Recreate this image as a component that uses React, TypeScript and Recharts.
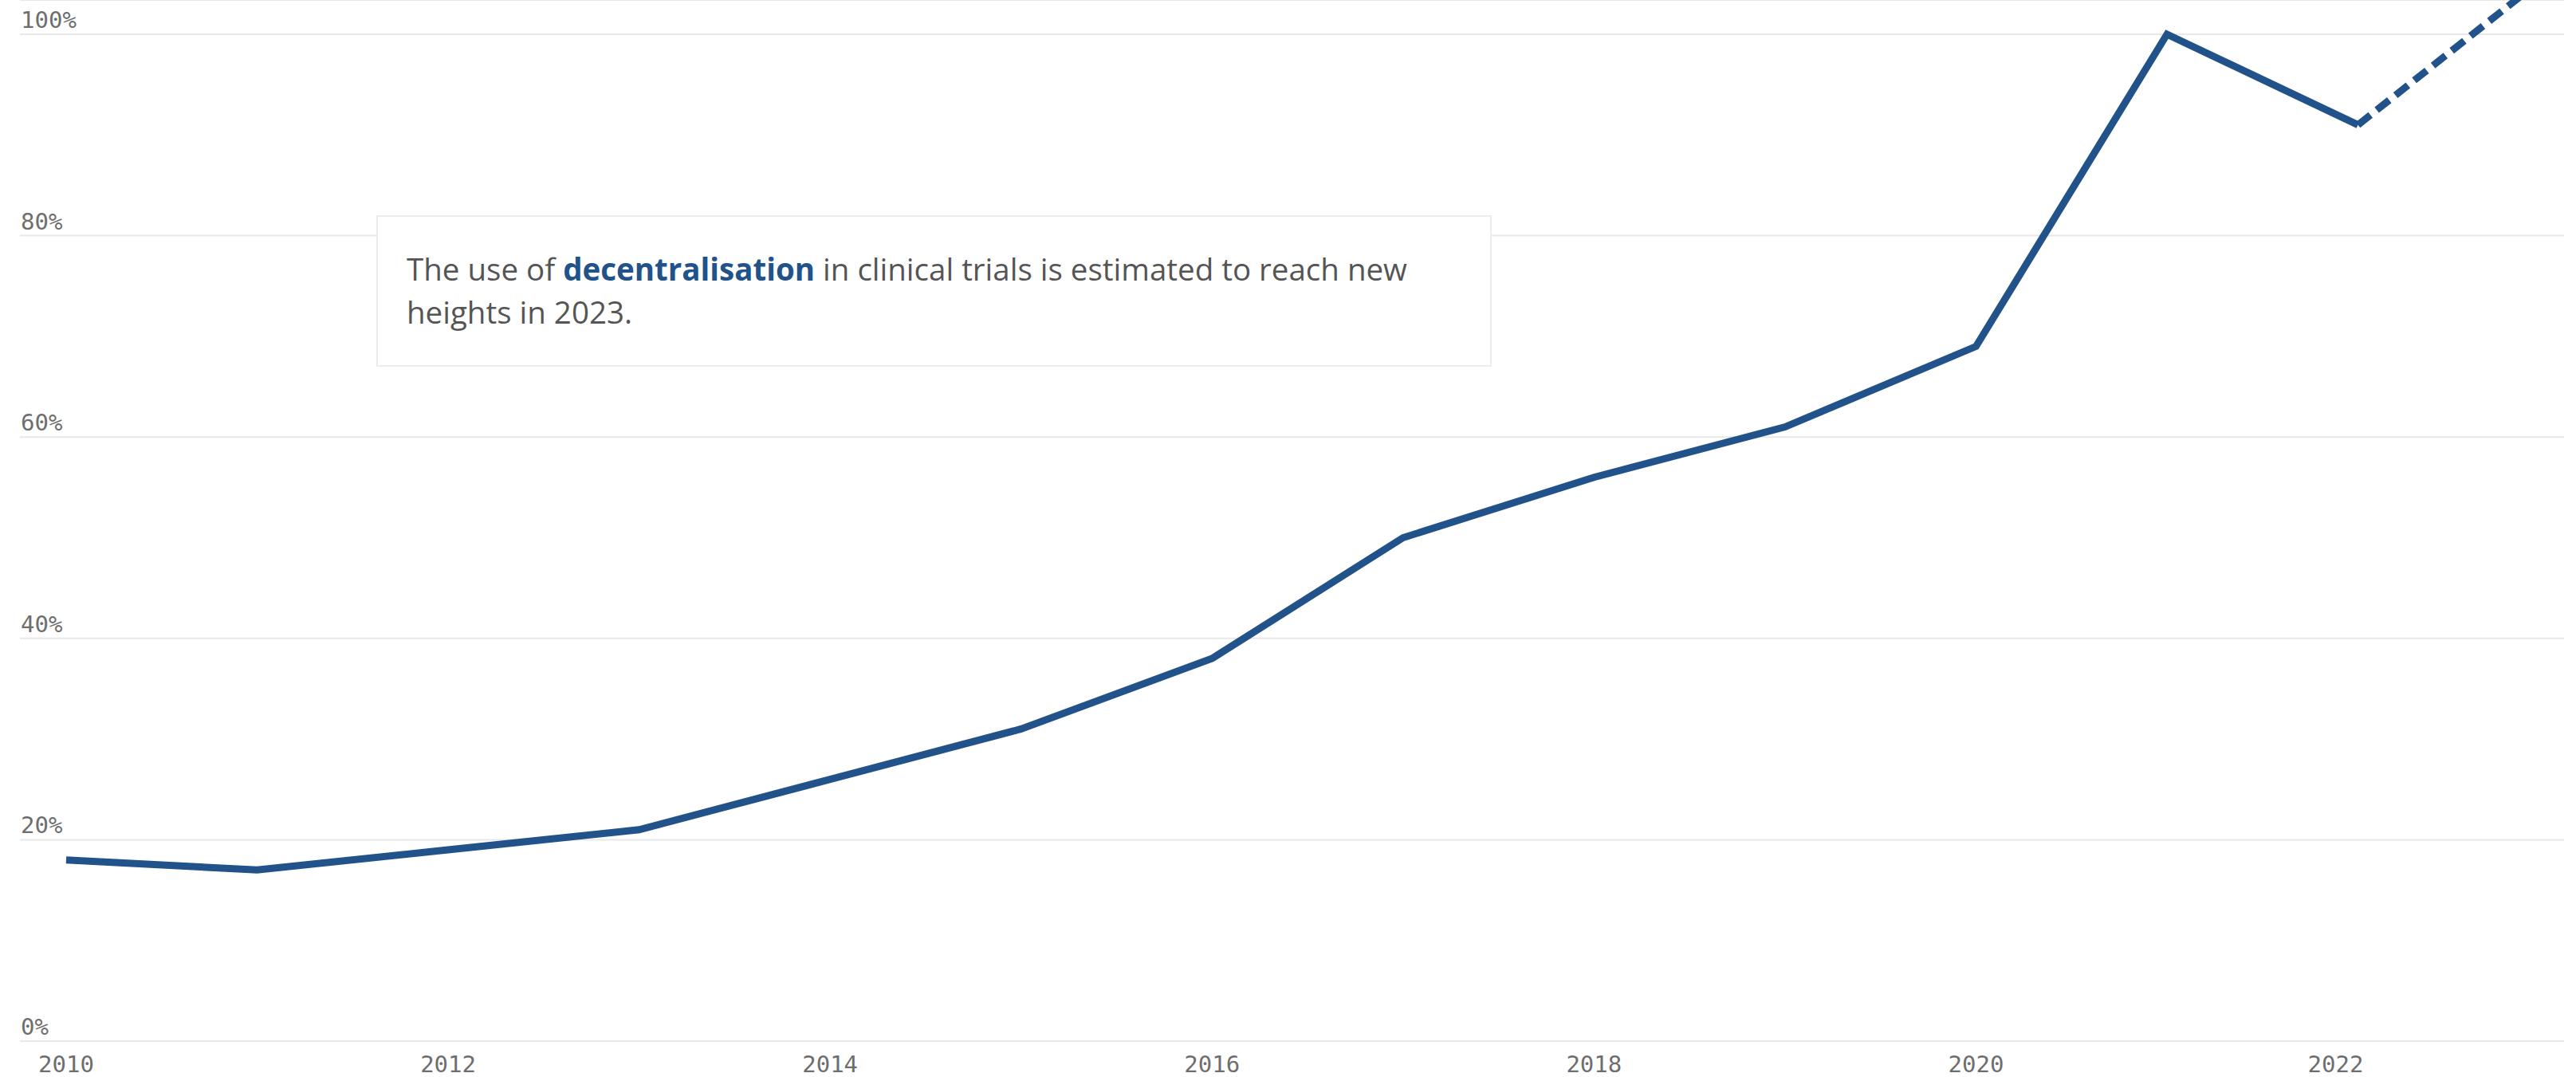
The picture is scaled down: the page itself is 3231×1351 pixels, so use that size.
import { LineChart, Line, XAxis, YAxis, CartesianGrid } from 'recharts';

// Share of clinical trials using decentralised elements, by year (%)
const years = [2010, 2011, 2012, 2013, 2014, 2015, 2016, 2017, 2018, 2019, 2020, 2021, 2022, 2023];
const actualShare = [18, 17, 19, 21, 26, 31, 38, 50, 56, 61, 69, 100, 91, null];
const estimatedShare = [null, null, null, null, null, null, null, null, null, null, null, null, 91, 106];

const yearTicks = [2010, 2012, 2014, 2016, 2018, 2020, 2022];
const percentTicks = [0, 20, 40, 60, 80, 100];

const data = years.map((year, i) => ({
  year,
  actual: actualShare[i],
  estimate: estimatedShare[i],
}));

const WIDTH = 3231;
const HEIGHT = 1351;
const PLOT_LEFT = 25;
const LINE_COLOR = '#21528a';
const TICK_COLOR = '#6e6e6e';
const MONO = '"DejaVu Sans Mono", "Liberation Mono", monospace';

// top of the plot sits above the 100% line so the 2023 estimate runs off the top
const Y_MAX = (100 * 1306) / 1263;

const XTick = ({ x, y, payload }: any) => (
  <text
    x={x + (payload.value === 2022 ? -28 : 0)}
    y={y + 37}
    textAnchor="middle"
    fontFamily={MONO}
    fontSize={29}
    fill={TICK_COLOR}
  >
    {payload.value}
  </text>
);

const YTick = ({ y, payload }: any) => (
  <text x={PLOT_LEFT + 1} y={y - 8} textAnchor="start" fontFamily={MONO} fontSize={29} fill={TICK_COLOR}>
    {`${payload.value}%`}
  </text>
);

export default function App() {
  return (
    <div
      style={{
        position: 'absolute',
        left: 0,
        top: 0,
        width: WIDTH,
        height: HEIGHT,
        background: '#ffffff',
        overflow: 'hidden',
      }}
    >
      <LineChart
        width={WIDTH}
        height={HEIGHT}
        data={data}
        margin={{ top: 0, right: 15, bottom: 0, left: PLOT_LEFT - 1 }}
      >
        <CartesianGrid vertical={false} stroke="#e8e8e8" strokeWidth={2} />
        <XAxis
          type="number"
          dataKey="year"
          domain={[2009.758, 2023.079]}
          ticks={yearTicks}
          axisLine={false}
          tickLine={false}
          tickSize={0}
          height={45}
          tick={<XTick />}
        />
        <YAxis
          type="number"
          domain={[0, Y_MAX]}
          allowDataOverflow
          ticks={percentTicks}
          width={1}
          axisLine={false}
          tickLine={false}
          tick={<YTick />}
        />
        <Line
          type="linear"
          dataKey="actual"
          stroke={LINE_COLOR}
          strokeWidth={9}
          dot={false}
          activeDot={false}
          connectNulls={false}
          isAnimationActive={false}
        />
        <Line
          type="linear"
          dataKey="estimate"
          stroke={LINE_COLOR}
          strokeWidth={9}
          strokeDasharray="20 10"
          dot={false}
          activeDot={false}
          isAnimationActive={false}
        />
      </LineChart>
      <div
        style={{
          position: 'absolute',
          left: 472,
          top: 270,
          width: 1399,
          height: 190,
          boxSizing: 'border-box',
          border: '2px solid #ececec',
          background: '#ffffff',
          padding: '38px 36px',
          fontFamily: '"Open Sans", Lato, sans-serif',
          fontSize: 38.5,
          lineHeight: '54px',
          color: '#555555',
        }}
      >
        The use of <span style={{ color: LINE_COLOR, fontWeight: 700 }}>decentralisation</span> in clinical trials
        is estimated to reach new heights in 2023.
      </div>
    </div>
  );
}
